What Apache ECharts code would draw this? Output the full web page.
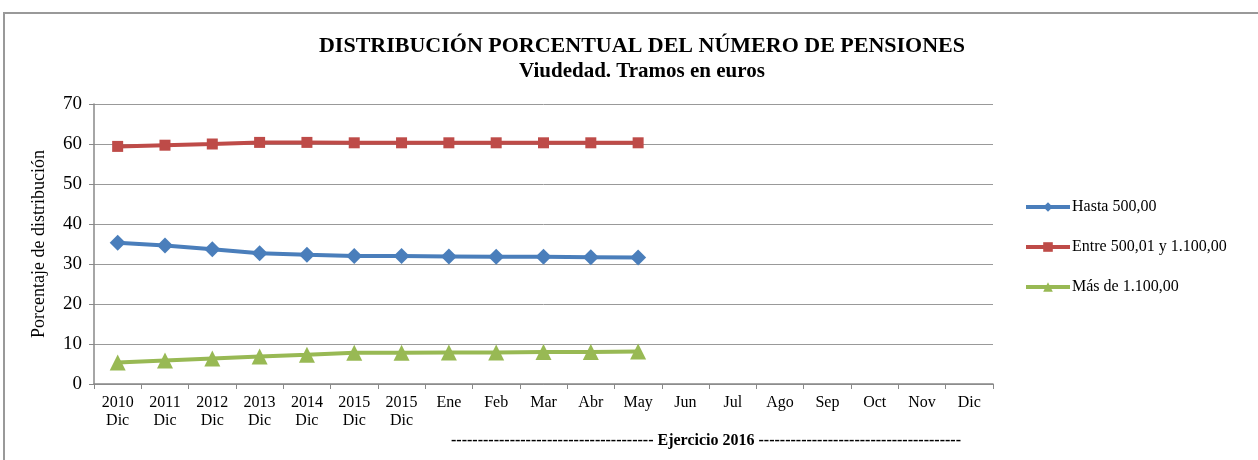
<!DOCTYPE html>
<html>
<head>
<meta charset="utf-8">
<script src="https://cdn.jsdelivr.net/npm/echarts@6/dist/echarts.min.js"></script>
<style>
  html, body { margin: 0; padding: 0; background: #fff; }
  #chart { width: 1258px; height: 460px; }
</style>
</head>
<body>
<div id="chart"></div>
<script>
const categories = ['2010\nDic', '2011\nDic', '2012\nDic', '2013\nDic', '2014\nDic', '2015\nDic', '2015\nDic',
  'Ene', 'Feb', 'Mar', 'Abr', 'May', 'Jun', 'Jul', 'Ago', 'Sep', 'Oct', 'Nov', 'Dic']
const hasta500 = [35.3, 34.6, 33.7, 32.7, 32.3, 32.0, 32.0, 31.9, 31.8, 31.8, 31.7, 31.6]
const entre500y1100 = [59.4, 59.7, 60.0, 60.4, 60.4, 60.3, 60.3, 60.3, 60.3, 60.3, 60.3, 60.3]
const mas1100 = [5.4, 5.9, 6.4, 6.9, 7.3, 7.8, 7.8, 7.9, 7.9, 8.0, 8.0, 8.1]
const yTicks = [0, 10, 20, 30, 40, 50, 60, 70]

const font = 'Liberation Serif'
const chart = echarts.init(document.getElementById('chart'))

function lineSeries(name, data, color, symbol, size) {
  return {
    name, type: 'line', data, symbol, symbolSize: size,
    lineStyle: { color, width: 4 },
    itemStyle: { color },
    emphasis: { disabled: true }
  }
}

const dashes = '-'.repeat(38)

chart.setOption({
  animation: false,
  textStyle: { fontFamily: font },
  title: {
    text: 'DISTRIBUCIÓN PORCENTUAL DEL NÚMERO DE PENSIONES',
    subtext: 'Viudedad. Tramos en euros',
    left: 637, top: 30, textAlign: 'center', itemGap: 4,
    textStyle: { fontFamily: font, fontSize: 22, fontWeight: 'bold', color: '#000' },
    subtextStyle: { fontFamily: font, fontSize: 21, fontWeight: 'bold', color: '#000' }
  },
  legend: {
    orient: 'vertical', left: 1019, top: 194, itemGap: 24,
    itemWidth: 44, itemHeight: 12,
    lineStyle: { width: 4 },
    textStyle: { fontFamily: font, fontSize: 16, color: '#000', padding: [0, 0, 0, -3] },
    data: ['Hasta 500,00', 'Entre 500,01 y 1.100,00', 'Más de 1.100,00']
  },
  grid: { left: 94, right: 265, top: 104, bottom: 76 },
  xAxis: {
    type: 'category', data: categories, boundaryGap: true,
    axisLine: { lineStyle: { color: '#888', width: 1.5 } },
    axisTick: { show: true, length: 5, lineStyle: { color: '#888' } },
    axisLabel: { interval: 0, color: '#000', fontSize: 16, lineHeight: 18, margin: 10 }
  },
  yAxis: {
    type: 'value', min: yTicks[0], max: yTicks[yTicks.length - 1], interval: 10,
    name: 'Porcentaje de distribución', nameLocation: 'middle', nameGap: 46,
    nameTextStyle: { fontFamily: font, fontSize: 18, color: '#000' },
    axisLine: { show: true, lineStyle: { color: '#888', width: 1.5 } },
    axisTick: { show: true, length: 5, lineStyle: { color: '#888' } },
    axisLabel: { color: '#000', fontSize: 19, margin: 12 },
    splitLine: { lineStyle: { color: '#999', width: 1 } }
  },
  graphic: [
    {
      type: 'rect', shape: { x: 4, y: 13, width: 1300, height: 500 },
      style: { fill: 'none', stroke: '#999', lineWidth: 2 }, silent: true
    },
    {
      type: 'text', x: 706, y: 441,
      style: {
        text: dashes + ' Ejercicio 2016 ' + dashes,
        fontFamily: font, fontSize: 16, fontWeight: 'bold', fill: '#000',
        align: 'center', verticalAlign: 'middle'
      }
    }
  ],
  series: [
    lineSeries('Hasta 500,00', hasta500, '#4A7EBB', 'diamond', 16),
    lineSeries('Entre 500,01 y 1.100,00', entre500y1100, '#BE4B48', 'rect', 11),
    lineSeries('Más de 1.100,00', mas1100, '#98B954', 'triangle', 16)
  ]
})
</script>
</body>
</html>
